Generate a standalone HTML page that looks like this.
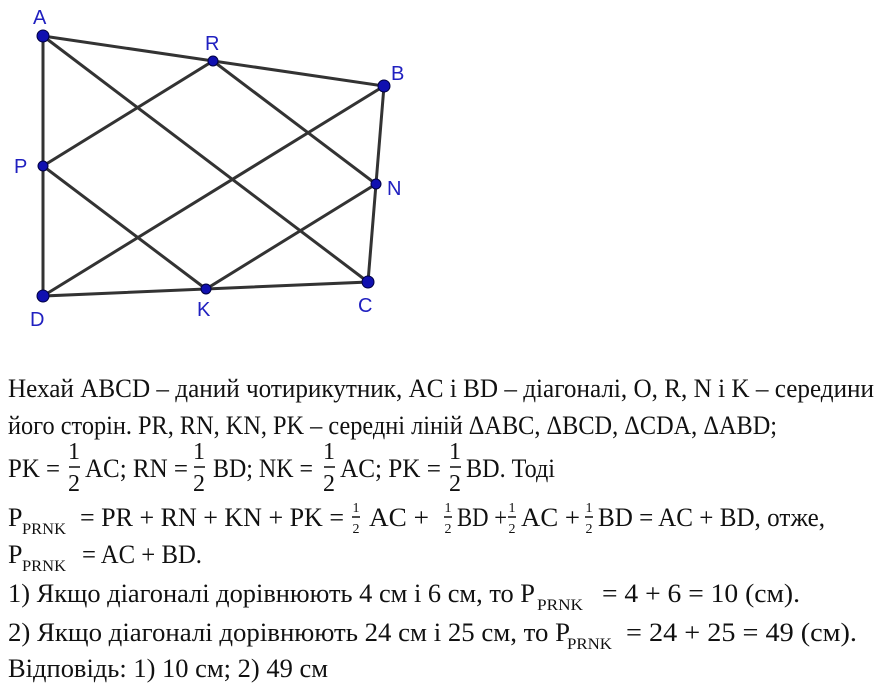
<!DOCTYPE html>
<html><head><meta charset="utf-8"><style>
html,body{margin:0;padding:0;background:#fff;}
svg{display:block;}
text{font-family:"Liberation Serif","DejaVu Serif",serif;fill:#111;}
.l{font-family:"Liberation Sans",sans-serif;fill:#2020c0;font-size:20px;}
</style></head><body>
<svg width="888" height="696" viewBox="0 0 888 696" xmlns="http://www.w3.org/2000/svg">
<g stroke="#333" stroke-width="3" fill="none">
<polygon points="43,36 384,86 368,282 43,296"/>
<line x1="43" y1="36" x2="368" y2="282"/>
<line x1="384" y1="86" x2="43" y2="296"/>
<polygon points="213,61 376,184 206,289 43,166"/>
</g>
<g fill="#1010b0" stroke="#000040" stroke-width="1">
<circle cx="43" cy="36" r="6"/><circle cx="384" cy="86" r="6"/><circle cx="368" cy="282" r="6"/><circle cx="43" cy="296" r="6"/>
<circle cx="213" cy="61" r="5"/><circle cx="376" cy="184" r="5"/><circle cx="206" cy="289" r="5"/><circle cx="43" cy="166" r="5"/>
</g>
<text class="l" x="33" y="24">A</text>
<text class="l" x="205" y="50">R</text>
<text class="l" x="391" y="80">B</text>
<text class="l" x="14" y="173">P</text>
<text class="l" x="387" y="195">N</text>
<text class="l" x="30" y="326">D</text>
<text class="l" x="197" y="316">K</text>
<text class="l" x="358" y="312">C</text>

<g font-size="26">
<text x="8" y="397" textLength="866" lengthAdjust="spacingAndGlyphs">Нехай ABCD – даний чотирикутник, AC і BD – діагоналі, O, R, N і K – середини</text>
<text x="8" y="434" textLength="769" lengthAdjust="spacingAndGlyphs">його сторін. PR, RN, KN, PK – середні ліній ΔABC, ΔBCD, ΔCDA, ΔABD;</text>

<text x="8" y="477" textLength="52" lengthAdjust="spacingAndGlyphs">PK =</text>
<text x="85" y="477" textLength="103" lengthAdjust="spacingAndGlyphs">AC; RN =</text>
<text x="213" y="477" textLength="100" lengthAdjust="spacingAndGlyphs">BD; NK =</text>
<text x="340" y="477" textLength="101" lengthAdjust="spacingAndGlyphs">AC; PK =</text>
<text x="466" y="477" textLength="89" lengthAdjust="spacingAndGlyphs">BD. Тоді</text>
</g>
<g font-size="24" text-anchor="middle">
<text x="74" y="459">1</text><text x="74" y="491">2</text>
<text x="199" y="459">1</text><text x="199" y="491">2</text>
<text x="329" y="459">1</text><text x="329" y="491">2</text>
<text x="455" y="459">1</text><text x="455" y="491">2</text>
</g>
<g stroke="#111" stroke-width="1.5">
<line x1="69" y1="467" x2="80" y2="467"/><line x1="194" y1="467" x2="205" y2="467"/>
<line x1="324" y1="467" x2="335" y2="467"/><line x1="450" y1="467" x2="461" y2="467"/>
<line x1="352" y1="517" x2="360" y2="517"/><line x1="444" y1="517" x2="452" y2="517"/>
<line x1="508" y1="517" x2="516" y2="517"/><line x1="585" y1="517" x2="593" y2="517"/>
</g>
<g font-size="14" text-anchor="middle">
<text x="356" y="512">1</text><text x="356" y="533">2</text>
<text x="448" y="512">1</text><text x="448" y="533">2</text>
<text x="512" y="512">1</text><text x="512" y="533">2</text>
<text x="589" y="512">1</text><text x="589" y="533">2</text>
</g>
<g font-size="26">
<text x="8" y="526">P</text>
<text x="22" y="534" font-size="16" textLength="44" lengthAdjust="spacingAndGlyphs">PRNK</text>
<text x="80" y="526" textLength="264" lengthAdjust="spacingAndGlyphs">= PR + RN + KN + PK =</text>
<text x="369" y="526" textLength="60" lengthAdjust="spacingAndGlyphs">AC +</text>
<text x="457" y="526" textLength="50" lengthAdjust="spacingAndGlyphs">BD +</text>
<text x="521" y="526" textLength="59" lengthAdjust="spacingAndGlyphs">AC +</text>
<text x="598" y="526" textLength="227" lengthAdjust="spacingAndGlyphs">BD = AC + BD, отже,</text>

<text x="8" y="563">P</text>
<text x="22" y="571" font-size="16" textLength="44" lengthAdjust="spacingAndGlyphs">PRNK</text>
<text x="82" y="563" textLength="120" lengthAdjust="spacingAndGlyphs">= AC + BD.</text>

<text x="8" y="602" textLength="527" lengthAdjust="spacingAndGlyphs">1) Якщо діагоналі дорівнюють 4 см і 6 см, то P</text>
<text x="537" y="610" font-size="16" textLength="46" lengthAdjust="spacingAndGlyphs">PRNK</text>
<text x="602" y="602" textLength="198" lengthAdjust="spacingAndGlyphs">= 4 + 6 = 10 (см).</text>

<text x="8" y="641" textLength="562" lengthAdjust="spacingAndGlyphs">2) Якщо діагоналі дорівнюють 24 см і 25 см, то P</text>
<text x="567" y="649" font-size="16" textLength="45" lengthAdjust="spacingAndGlyphs">PRNK</text>
<text x="626" y="641" textLength="231" lengthAdjust="spacingAndGlyphs">= 24 + 25 = 49 (см).</text>

<text x="8" y="677" textLength="320" lengthAdjust="spacingAndGlyphs">Відповідь: 1) 10 см; 2) 49 см</text>
</g>
</svg>
</body></html>
